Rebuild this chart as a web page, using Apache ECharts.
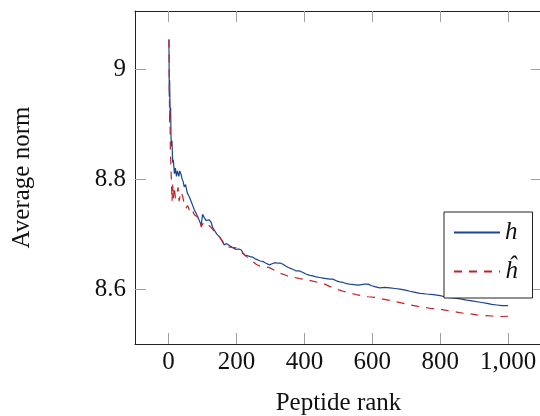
<!DOCTYPE html>
<html>
<head>
<meta charset="utf-8">
<script src="https://cdn.jsdelivr.net/npm/echarts@6/dist/echarts.min.js"></script>
<style>
html,body{margin:0;padding:0;background:#fff;}
#chart{width:540px;height:416px;}
</style>
</head>
<body>
<div id="chart"></div>
<script>
// Peptide rank vs average norm
const seriesNames = ['h', '\u0125'];
const xTicks = [0, 200, 400, 600, 800, 1000];
const yTicks = [8.6, 8.8, 9];

const hPoints = [
  [1,9.054],[2,8.95],[3,8.98],[4,8.94],[5,8.91],[6,8.93],[7,8.88],[8,8.86],[10,8.87],[12,8.83],
  [14,8.835],[17,8.81],[20,8.82],[23,8.805],[26,8.815],[30,8.805],[33,8.815],[36,8.81],[40,8.80],[43,8.795],
  [46,8.786],[50,8.79],[55,8.775],[61,8.768],[66,8.765],[71,8.752],[76,8.744],[81,8.738],[86,8.731],[91,8.724],
  [96,8.716],[100,8.736],[105,8.73],[110,8.725],[115,8.722],[120,8.726],[125,8.722],[130,8.712],[135,8.707],[142,8.70],
  [150,8.695],[157,8.688],[164,8.680],[170,8.683],[174,8.684],[180,8.679],[187,8.676],[193,8.674],[199,8.672],[206,8.673],
  [214,8.671],[219,8.666],[224,8.662],[231,8.661],[240,8.659],[248,8.658],[255,8.655],[263,8.653],[270,8.651],[278,8.650],
  [287,8.647],[297,8.644],[305,8.646],[314,8.648],[322,8.647],[330,8.647],[337,8.645],[345,8.642],[357,8.638],[366,8.636],
  [376,8.633],[386,8.633],[396,8.630],[406,8.627],[416,8.625],[425,8.624],[435,8.622],[445,8.621],[455,8.620],[465,8.619],
  [475,8.618],[484,8.618],[494,8.615],[504,8.613],[514,8.612],[524,8.610],[534,8.609],[546,8.608],[558,8.607],[568,8.608],
  [578,8.609],[588,8.609],[598,8.606],[610,8.604],[622,8.602],[637,8.603],[652,8.602],[667,8.601],[682,8.600],[697,8.598],
  [711,8.596],[726,8.594],[741,8.592],[760,8.591],[780,8.590],[800,8.588],[819,8.585],[839,8.584],[859,8.582],[878,8.580],
  [898,8.578],[918,8.576],[938,8.574],[952,8.572],[967,8.571],[982,8.570],[997,8.570],[1000,8.569]
];

const hatPoints = [
  [1,9.054],[2,8.98],[3,8.90],[4,8.93],[5,8.86],[6,8.84],[8,8.80],[10,8.76],[12,8.79],[14,8.765],
  [17,8.786],[20,8.765],[24,8.771],[28,8.785],[31,8.760],[36,8.777],[41,8.77],[46,8.755],[51,8.747],[56,8.752],
  [61,8.744],[66,8.748],[71,8.75],[76,8.735],[83,8.732],[91,8.729],[96,8.713],[100,8.718],[105,8.722],[114,8.718],
  [124,8.713],[135,8.705],[146,8.698],[158,8.688],[170,8.677],[185,8.676],[199,8.675],[212,8.668],[224,8.662],[236,8.656],
  [248,8.650],[258,8.645],[268,8.642],[282,8.641],[297,8.639],[312,8.634],[327,8.629],[342,8.626],[357,8.622],[372,8.621],
  [386,8.619],[404,8.617],[421,8.615],[440,8.612],[460,8.609],[477,8.604],[494,8.600],[514,8.596],[534,8.593],[552,8.590],
  [569,8.588],[588,8.586],[608,8.585],[628,8.582],[647,8.580],[670,8.577],[692,8.574],[712,8.571],[731,8.569],[750,8.567],
  [770,8.565],[790,8.564],[810,8.562],[830,8.560],[849,8.558],[868,8.556],[888,8.555],[908,8.553],[928,8.552],[952,8.551],
  [977,8.550],[1000,8.5505]
];

const FONT = '"Liberation Serif", "DejaVu Serif", serif';
const tickStyle = {show: true, inside: true, length: 11, lineStyle: {color: '#a0a0a0', width: 1}};
const frameLine = {show: true, onZero: false, lineStyle: {color: '#222', width: 1}};

const chart = echarts.init(document.getElementById('chart'), null, {renderer: 'canvas'});
chart.setOption({
  animation: false,
  backgroundColor: '#fff',
  grid: {left: 135, top: 11, right: -2, bottom: 72, containLabel: false, outerBoundsMode: 'none'},
  xAxis: [{
    type: 'value', min: -99, max: 1100, position: 'bottom',
    name: 'Peptide rank', nameLocation: 'middle', nameGap: 47,
    nameTextStyle: {fontFamily: FONT, fontSize: 25, color: '#111'},
    axisLine: frameLine,
    axisTick: Object.assign({customValues: xTicks}, tickStyle),
    axisLabel: {customValues: xTicks, fontFamily: FONT, fontSize: 25, color: '#111', margin: 6,
      formatter: v => v >= 1000 ? (Math.floor(v/1000) + ',' + String(v%1000).padStart(3,'0')) : String(v)},
    splitLine: {show: false}
  }, {
    type: 'value', min: -99, max: 1100, position: 'top',
    axisLine: frameLine,
    axisTick: Object.assign({customValues: xTicks}, tickStyle),
    axisLabel: {show: false}, splitLine: {show: false}
  }],
  yAxis: [{
    type: 'value', min: 8.5, max: 9.106, position: 'left',
    name: 'Average norm', nameLocation: 'middle', nameGap: 100, nameRotate: 90,
    nameTextStyle: {fontFamily: FONT, fontSize: 25, color: '#111'},
    axisLine: frameLine,
    axisTick: Object.assign({customValues: yTicks}, tickStyle),
    axisLabel: {customValues: yTicks, fontFamily: FONT, fontSize: 25, color: '#111', margin: 9,
      formatter: v => String(Math.round(v*10)/10)},
    splitLine: {show: false}
  }, {
    type: 'value', min: 8.5, max: 9.106, position: 'right',
    axisLine: frameLine,
    axisTick: Object.assign({customValues: yTicks}, tickStyle),
    axisLabel: {show: false}, splitLine: {show: false}
  }],
  legend: {
    left: 444, top: 212, orient: 'vertical',
    backgroundColor: '#fff', borderColor: '#222', borderWidth: 1,
    padding: [8, 15, 14, 9], itemGap: 14, itemWidth: 46, itemHeight: 28,
    itemStyle: {opacity: 0},
    textStyle: {fontFamily: FONT, fontSize: 25, fontStyle: 'italic', color: '#111', padding: [0,0,0,0]},
    data: seriesNames
  },
  series: [{
    name: seriesNames[0], type: 'line', data: hPoints, symbol: 'none', xAxisIndex: 0, yAxisIndex: 0,
    lineStyle: {color: '#1b4590', width: 1.2}, itemStyle: {color: '#1b4590'}
  }, {
    name: seriesNames[1], type: 'line', data: hatPoints, symbol: 'none', xAxisIndex: 0, yAxisIndex: 0,
    lineStyle: {color: '#c0222a', width: 1.2, type: [8, 7]}, itemStyle: {color: '#c0222a'}
  }]
});
</script>
</body>
</html>
